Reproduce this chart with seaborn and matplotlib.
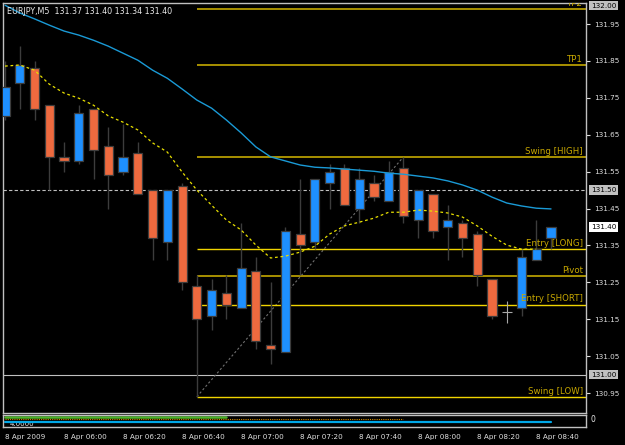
import numpy as np
import pandas as pd
import matplotlib
matplotlib.use("Agg")
import matplotlib.pyplot as plt
import matplotlib.transforms as mtransforms
import seaborn as sns

# EURJPY M5, 8 Apr 2009, one row per 5 minute bar
times = ["05:40", "05:45", "05:50", "05:55", "06:00", "06:05", "06:10", "06:15",
         "06:20", "06:25", "06:30", "06:35", "06:40", "06:45", "06:50", "06:55",
         "07:00", "07:05", "07:10", "07:15", "07:20", "07:25", "07:30", "07:35",
         "07:40", "07:45", "07:50", "07:55", "08:00", "08:05", "08:10", "08:15",
         "08:20", "08:25", "08:30", "08:35", "08:40", "08:45"]
opens = [131.70, 131.79, 131.83, 131.73, 131.59, 131.58, 131.72, 131.62,
         131.55, 131.60, 131.50, 131.36, 131.51, 131.24, 131.16, 131.22,
         131.18, 131.28, 131.08, 131.06, 131.38, 131.36, 131.52, 131.56,
         131.45, 131.52, 131.47, 131.56, 131.42, 131.49, 131.40, 131.41,
         131.38, 131.26, 131.17, 131.18, 131.31, 131.37]
highs = [131.85, 131.89, 131.85, 131.73, 131.63, 131.73, 131.72, 131.67,
         131.68, 131.63, 131.50, 131.50, 131.52, 131.27, 131.26, 131.27,
         131.41, 131.32, 131.25, 131.40, 131.53, 131.53, 131.57, 131.57,
         131.56, 131.54, 131.58, 131.59, 131.50, 131.49, 131.46, 131.42,
         131.39, 131.26, 131.20, 131.34, 131.42, 131.40]
lows = [131.69, 131.72, 131.69, 131.50, 131.55, 131.57, 131.53, 131.45,
        131.54, 131.49, 131.31, 131.31, 131.23, 130.94, 131.12, 131.15,
        131.18, 131.07, 131.03, 131.06, 131.27, 131.34, 131.45, 131.46,
        131.41, 131.47, 131.47, 131.41, 131.37, 131.37, 131.31, 131.32,
        131.24, 131.15, 131.14, 131.16, 131.31, 131.34]
closes = [131.78, 131.84, 131.72, 131.59, 131.58, 131.71, 131.61, 131.54,
          131.59, 131.49, 131.37, 131.50, 131.25, 131.15, 131.23, 131.19,
          131.29, 131.09, 131.07, 131.39, 131.35, 131.53, 131.55, 131.46,
          131.53, 131.48, 131.55, 131.43, 131.50, 131.39, 131.42, 131.37,
          131.27, 131.16, 131.17, 131.32, 131.34, 131.40]

# moving averages
ma_slow = [132.001, 131.980, 131.964, 131.947, 131.931, 131.920, 131.906, 131.890,
           131.871, 131.852, 131.825, 131.803, 131.774, 131.744, 131.722, 131.690,
           131.655, 131.617, 131.590, 131.579, 131.568, 131.562, 131.560, 131.557,
           131.554, 131.551, 131.546, 131.543, 131.538, 131.533, 131.525, 131.514,
           131.500, 131.481, 131.465, 131.457, 131.451, 131.449]
ma_fast = [131.836, 131.839, 131.825, 131.787, 131.763, 131.749, 131.730, 131.701,
           131.684, 131.663, 131.628, 131.603, 131.549, 131.500, 131.459, 131.419,
           131.392, 131.351, 131.316, 131.321, 131.332, 131.348, 131.381, 131.403,
           131.413, 131.424, 131.440, 131.440, 131.446, 131.443, 131.438, 131.427,
           131.403, 131.375, 131.351, 131.340, 131.340, np.nan]

# drawn levels
level_names = ["TP2", "TP1", "Swing [HIGH]", "Entry [LONG]", "Pivot", "Entry [SHORT]", "Swing [LOW]"]
level_prices = [131.99, 131.84, 131.59, 131.34, 131.266, 131.19, 130.94]
level_heavy = [True, True, True, False, True, False, False]

# lower indicator window (bars where each line is drawn)
ind_green = [4.0] * 16
ind_orange = [3.0] * 28
ind_blue = [1.5] * 38

price_ticks = [130.95, 131.05, 131.15, 131.25, 131.35, 131.45, 131.55, 131.65, 131.75, 131.85, 131.95]
time_tick_bars = [0, 4, 8, 12, 16, 20, 24, 28, 32, 36]
time_tick_labels = ["8 Apr 2009", "8 Apr 06:00", "8 Apr 06:20", "8 Apr 06:40", "8 Apr 07:00",
                    "8 Apr 07:20", "8 Apr 07:40", "8 Apr 08:00", "8 Apr 08:20", "8 Apr 08:40"]

BULL = "#1e90ff"
BEAR = "#ee6a3f"
EDGE = "#3c3c3c"
GREY = "#c0c0c0"
GOLD = "#c8a800"

df = pd.DataFrame({"time": times, "open": opens, "high": highs, "low": lows, "close": closes,
                   "ma_slow": ma_slow, "ma_fast": ma_fast})
df["x"] = np.arange(len(df))

sns.set_theme(style="dark", rc={
    "figure.facecolor": "black", "axes.facecolor": "black",
    "axes.edgecolor": GREY, "axes.linewidth": 1.0,
    "text.color": "#e8e8e8", "xtick.color": "#e0e0e0", "ytick.color": "#e0e0e0",
    "axes.grid": False})
plt.rcParams["font.family"] = ["DejaVu Sans"]

fig = plt.figure(figsize=(6.25, 4.45), dpi=100)
ax = fig.add_axes([3 / 625, 1 - 413 / 445, 583 / 625, 410 / 445])
ax2 = fig.add_axes([3 / 625, 1 - 427 / 445, 583 / 625, 12 / 445])

xlim = (-0.136, 39.37)

# candles
o, h, l, c, x = df["open"].values, df["high"].values, df["low"].values, df["close"].values, df["x"].values
bull = c > o
bear = c < o
doji = c == o
body_lo = np.minimum(o, c)
body_h = np.abs(c - o)
ax.vlines(x[~doji], l[~doji], h[~doji], color=EDGE, lw=1.0, zorder=2)
ax.bar(x[bull], body_h[bull], bottom=body_lo[bull], width=0.62, color=BULL,
       edgecolor=EDGE, linewidth=0.9, zorder=3)
ax.bar(x[bear], body_h[bear], bottom=body_lo[bear], width=0.62, color=BEAR,
       edgecolor=EDGE, linewidth=0.9, zorder=3)
ax.vlines(x[doji], l[doji], h[doji], color="#a8a8a8", lw=0.8, zorder=3)
ax.hlines(o[doji], x[doji] - 0.33, x[doji] + 0.33, color="#a8a8a8", lw=0.8, zorder=3)

# moving averages
sns.lineplot(data=df, x="x", y="ma_slow", ax=ax, color="#1a9ad6", lw=1.0,
             estimator=None, sort=False, legend=False, zorder=4)
fast = df.dropna(subset=["ma_fast"])
sns.lineplot(data=fast, x="x", y="ma_fast", ax=ax, color="#e8e000", lw=0.9,
             linestyle=(0, (2.2, 2.2)), estimator=None, sort=False, legend=False, zorder=4)

# round-number lines
ax.axhline(131.50, color=GREY, lw=0.8, linestyle=(0, (3, 2)), zorder=1)
ax.axhline(131.00, color=GREY, lw=0.8, zorder=1)

# swing trend line and levels
i_low = int(np.argmin(l))
i_high = i_low + int(np.argmax(h[i_low:]))
ax.plot([i_low, i_high], [l[i_low], h[i_high]], color="#707070", lw=0.8,
        linestyle=(0, (2, 2)), zorder=1)
lab_tr = mtransforms.blended_transform_factory(ax.transAxes, ax.transData)
for name, price, heavy in zip(level_names, level_prices, level_heavy):
    ax.hlines(price, i_low, xlim[1], color="#a89000" if heavy else "#f0d400",
              lw=1.4 if heavy else 1.0, zorder=1)
    ax.text(0.995, price + 0.003, name, transform=lab_tr, ha="right", va="bottom",
            color=GOLD, fontsize=6.2, clip_on=True, zorder=5)

ax.set_xlim(*xlim)
ax.set_ylim(130.896, 132.007)
ax.set_xticks([])
ax.set_xlabel("")
ax.set_ylabel("")
ax.yaxis.tick_right()
ax.set_yticks(price_ticks)
ax.set_yticklabels([f"{p:.2f}" for p in price_ticks])
ax.tick_params(axis="y", direction="out", length=3, width=0.8, pad=3, labelsize=5.2,
               colors="#e0e0e0")

# boxed price labels on the scale
box_tr = mtransforms.blended_transform_factory(fig.transFigure, ax.transData)
for price, fc in [(131.50, GREY), (131.00, GREY), (c[-1], "white"), (132.00, GREY)]:
    ax.text(591 / 625, price, f"{price:.2f}", transform=box_tr, ha="left", va="center",
            fontsize=5.2, color="black", clip_on=False,
            bbox=dict(boxstyle="square,pad=0.25", fc=fc, ec="none"))

# header
last = df.iloc[-1]
fig.text(7 / 625, 1 - 12 / 445,
         f"EURJPY,M5  {last['open']:.2f} {last['high']:.2f} {last['low']:.2f} {last['close']:.2f}",
         color="#e8e8e8", fontsize=5.8, va="center", ha="left")

# indicator window
sns.lineplot(x=np.arange(len(ind_green)), y=ind_green, ax=ax2, color="#4cb428", lw=1.8,
             estimator=None, legend=False)
sns.lineplot(x=np.arange(len(ind_orange)), y=ind_orange, ax=ax2, color="#d08a00", lw=0.8,
             linestyle=(0, (1, 1)), estimator=None, legend=False)
sns.lineplot(x=np.arange(len(ind_blue)), y=ind_blue, ax=ax2, color="#00a8e8", lw=1.6,
             estimator=None, legend=False)
ax2.text(0.012, 0.02, "4.0000", transform=ax2.transAxes, fontsize=5, color="#e8e8e8",
         va="bottom", ha="left", zorder=0)
ax2.text(1.008, 0.6, "0", transform=ax2.transAxes, fontsize=5.5, color="#e8e8e8",
         va="center", ha="left")
ax2.set_xlim(*xlim)
ax2.set_ylim(-1, 5)
ax2.set_yticks([])
ax2.set_xlabel("")
ax2.set_ylabel("")
ax2.set_xticks(time_tick_bars)
ax2.set_xticklabels(time_tick_labels)
for t in ax2.get_xticklabels():
    t.set_ha("left")
ax2.tick_params(axis="x", direction="out", length=3, width=0.8, pad=2, labelsize=5.2,
                colors="#e0e0e0")

fig.savefig("out.png", dpi=100, facecolor="black")
